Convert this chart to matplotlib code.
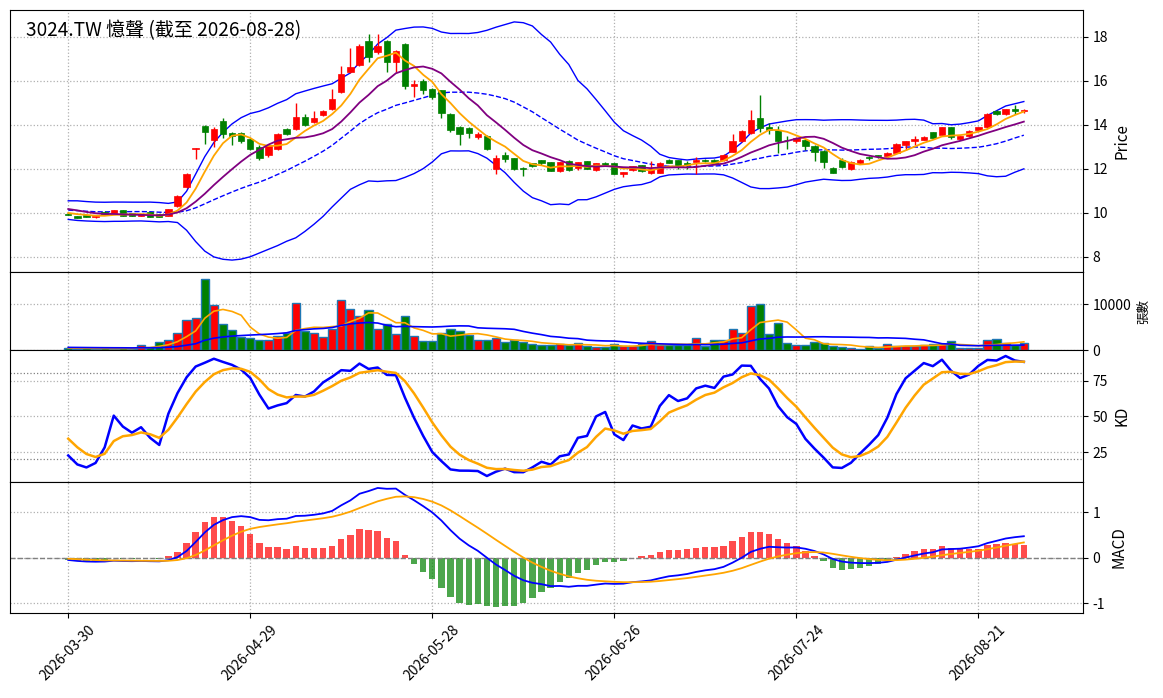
import numpy as np
import pandas as pd
import matplotlib
matplotlib.use('Agg')
import matplotlib.pyplot as plt

plt.rcParams['font.family'] = ['Noto Sans CJK TC', 'DejaVu Sans']
plt.rcParams['axes.unicode_minus'] = False

TITLE = '3024.TW 憶聲 (截至 2026-08-28)'
START, END = '2026-03-30', '2026-08-28'
HOLIDAYS = ['2026-04-03', '2026-04-06', '2026-05-01', '2026-06-19']
TICK_DATES = ['2026-03-30', '2026-04-29', '2026-05-28', '2026-06-26', '2026-07-24', '2026-08-21']

# estimated bars before the window (needed for the moving averages / KD)
PRE_CLOSE = [10.25, 10.4, 10.3, 10.1, 9.95, 9.85, 9.8, 9.9, 10.0, 10.25,
             10.4, 10.55, 10.45, 10.3, 10.1, 10.05, 10.0, 10.05, 9.97]
PRE_HIGH = [10.3, 10.45, 10.4, 10.3, 10.05, 9.95, 9.9, 9.95, 10.05, 10.3,
            10.45, 10.6, 10.55, 10.45, 10.3, 10.15, 10.1, 10.1, 10.08]
PRE_LOW = [10.2, 10.3, 10.25, 10.05, 9.9, 9.8, 9.75, 9.8, 9.9, 10.0,
           10.25, 10.4, 10.4, 10.25, 10.05, 9.98, 9.9, 9.85, 9.88]
PRE_VOLUME = [600, 750, 650, 700, 550, 500, 650, 600, 700, 800,
              650, 600, 550, 500, 450, 500, 400, 450, 400]

OPEN = [9.97, 9.85, 9.92, 9.82, 10.05, 9.98, 10.13, 9.99, 9.87, 10.03,
        9.95, 9.86, 10.3, 11.18, 12.9, 13.97, 13.3, 14.2, 13.63, 13.63,
        13.36, 13.02, 12.63, 12.91, 13.82, 13.82, 14.35, 14.13, 14.45, 14.71,
        15.5, 16.42, 16.73, 17.8, 17.31, 17.8, 16.85, 17.69, 15.77, 16.0,
        15.62, 15.57, 14.51, 13.91, 13.87, 13.45, 13.51, 11.99, 12.63, 12.48,
        12.05, 12.25, 12.4, 12.3, 11.92, 12.36, 12.05, 12.36, 11.97, 12.28,
        12.25, 11.75, 11.96, 12.16, 11.8, 11.82, 12.41, 12.41, 12.26, 12.3,
        12.42, 12.41, 12.41, 12.79, 13.25, 13.63, 14.32, 13.9, 13.75, 13.33,
        13.25, 13.32, 13.06, 12.82, 12.05, 12.43, 11.99, 12.25, 12.56, 12.62,
        12.6, 12.74, 13.09, 13.29, 13.33, 13.66, 13.55, 13.91, 13.36, 13.48,
        13.76, 13.91, 14.63, 14.48, 14.74, 14.63]
HIGH = [10.0, 9.88, 9.95, 9.9, 10.08, 10.15, 10.15, 10.0, 9.97, 10.05,
        9.97, 10.2, 10.8, 11.8, 12.97, 13.99, 13.93, 14.32, 13.68, 13.68,
        13.4, 13.1, 13.12, 13.62, 13.88, 14.98, 14.48, 14.63, 14.7, 15.63,
        16.67, 17.5, 17.69, 18.15, 18.15, 17.85, 17.43, 17.72, 16.05, 16.1,
        15.68, 15.6, 14.55, 13.95, 13.9, 13.7, 13.55, 12.63, 12.75, 12.52,
        12.08, 12.28, 12.42, 12.33, 12.33, 12.4, 12.32, 12.38, 12.28, 12.3,
        12.27, 11.86, 12.15, 12.18, 12.35, 12.3, 12.45, 12.43, 12.35, 12.56,
        12.44, 12.44, 12.7, 13.6, 13.75, 14.67, 15.35, 14.1, 13.95, 13.5,
        13.45, 13.35, 13.08, 12.85, 12.07, 12.52, 12.35, 12.45, 12.6, 12.65,
        12.76, 13.16, 13.27, 13.48, 13.48, 13.68, 13.93, 13.93, 13.5, 13.76,
        13.92, 14.55, 14.66, 14.73, 14.9, 14.73]
LOW = [9.9, 9.75, 9.8, 9.75, 9.93, 9.96, 9.84, 9.85, 9.85, 9.8,
       9.8, 9.84, 10.25, 11.15, 12.44, 13.14, 13.02, 13.4, 13.1, 13.2,
       12.85, 12.4, 12.56, 12.88, 13.55, 13.75, 13.95, 14.1, 14.4, 14.68,
       15.45, 16.38, 16.7, 16.85, 17.23, 16.39, 16.42, 15.65, 15.25, 15.42,
       15.2, 14.31, 13.7, 13.08, 13.4, 13.35, 12.85, 11.76, 12.3, 11.95,
       11.67, 12.1, 12.2, 11.9, 11.88, 11.93, 11.95, 11.98, 11.9, 12.15,
       11.75, 11.65, 11.93, 11.85, 11.75, 11.8, 12.25, 12.0, 12.0, 11.79,
       12.33, 12.25, 12.38, 12.76, 13.22, 13.6, 13.7, 13.6, 12.71, 12.9,
       13.2, 12.85, 12.35, 12.05, 11.8, 12.05, 11.97, 12.22, 12.4, 12.5,
       12.58, 12.72, 12.85, 13.1, 13.3, 13.38, 13.52, 13.36, 13.32, 13.45,
       13.74, 13.88, 14.45, 14.45, 14.5, 14.55]
CLOSE = [9.93, 9.78, 9.82, 9.88, 9.95, 10.13, 9.86, 9.87, 9.95, 9.83,
         9.83, 10.18, 10.75, 11.79, 12.97, 13.69, 13.82, 13.58, 13.5, 13.25,
         12.9, 12.48, 13.09, 13.59, 13.6, 14.37, 13.99, 14.32, 14.63, 15.17,
         16.32, 16.62, 17.57, 17.08, 17.57, 16.88, 17.34, 15.77, 15.85, 15.57,
         15.27, 14.54, 13.75, 13.57, 13.63, 13.6, 12.89, 12.51, 12.45, 11.99,
         11.98, 12.15, 12.25, 11.92, 12.3, 11.95, 12.3, 12.0, 12.25, 12.2,
         11.79, 11.84, 12.13, 11.93, 11.98, 12.28, 12.29, 12.07, 12.18, 12.41,
         12.36, 12.29, 12.64, 13.28, 13.71, 14.24, 13.86, 13.78, 13.25, 13.3,
         13.43, 13.06, 12.76, 12.33, 11.82, 12.1, 12.33, 12.43, 12.5, 12.58,
         12.74, 13.14, 13.25, 13.37, 13.45, 13.4, 13.91, 13.45, 13.48, 13.74,
         13.9, 14.52, 14.5, 14.71, 14.63, 14.68]
VOLUME = [400, 300, 350, 300, 350, 300, 350, 300, 1000, 650,
          1700, 2100, 3650, 6500, 6950, 15500, 9800, 5600, 4300, 2800,
          2550, 2250, 2250, 3000, 3700, 10300, 4150, 3700, 2800, 4650,
          10900, 8900, 7400, 8700, 4550, 5750, 3450, 7350, 3000, 1900,
          1900, 3700, 4650, 4100, 3200, 2250, 2250, 2550, 1700, 2200,
          1700, 1300, 1000, 1000, 1400, 1000, 1550, 800, 750, 600,
          1300, 800, 800, 1400, 1900, 1000, 1000, 1150, 1150, 2550,
          900, 2100, 2100, 4550, 3800, 9550, 10000, 3450, 5900, 1550,
          1000, 1000, 1700, 1550, 900, 750, 450, 300, 800, 500,
          1250, 900, 900, 900, 1000, 1250, 1400, 1900, 450, 450,
          450, 2100, 2500, 1600, 1150, 1550]

# ---------------- indicators ----------------
dates = pd.bdate_range(START, END)
dates = dates[~dates.isin(pd.to_datetime(HOLIDAYS))]
n = len(CLOSE)
npre = len(PRE_CLOSE)
x = np.arange(n)

o = np.array(OPEN); h = np.array(HIGH); l = np.array(LOW); c = np.array(CLOSE)
v = np.array(VOLUME, dtype=float)

c_all = pd.Series(PRE_CLOSE + CLOSE)
h_all = pd.Series(PRE_HIGH + HIGH)
l_all = pd.Series(PRE_LOW + LOW)
v_all = pd.Series(PRE_VOLUME + VOLUME, dtype=float)

ma5 = c_all.rolling(5).mean().values[npre:]
ma10 = c_all.rolling(10).mean().values[npre:]
mid = c_all.rolling(20).mean()
sd = c_all.rolling(20).std(ddof=0)
bb_mid = mid.values[npre:]
bb_up = (mid + 2 * sd).values[npre:]
bb_lo = (mid - 2 * sd).values[npre:]

vma5 = v_all.rolling(5).mean().values[npre:]
vma20 = v_all.rolling(20, min_periods=1).mean().values[npre:]

# KD (9,3,3)
ll = l_all.rolling(9, min_periods=1).min()
hh = h_all.rolling(9, min_periods=1).max()
rsv = ((c_all - ll) / (hh - ll).replace(0, np.nan) * 100).fillna(50).values
K = np.zeros(len(rsv)); D = np.zeros(len(rsv))
kp, dp = 50.0, 50.0
for i, r in enumerate(rsv):
    kp = kp * 2 / 3 + r / 3
    dp = dp * 2 / 3 + kp / 3
    K[i] = kp; D[i] = dp
K = K[npre:]; D = D[npre:]

# MACD (12,26,9)
ema12 = c_all.ewm(span=12, adjust=False).mean()
ema26 = c_all.ewm(span=26, adjust=False).mean()
dif = ema12 - ema26
dea = dif.ewm(span=9, adjust=False).mean()
osc = 2 * (dif - dea)
dif = dif.values[npre:]; dea = dea.values[npre:]; osc = osc.values[npre:]

# ---------------- figure ----------------
W, H = 1163, 698
fig = plt.figure(figsize=(W / 100, H / 100), dpi=100)

def axrect(top, bottom, left=10, right=1083):
    return [left / W, 1 - bottom / H, (right - left) / W, (bottom - top) / H]

ax1 = fig.add_axes(axrect(10, 272))
ax2 = fig.add_axes(axrect(272, 350), sharex=ax1)
ax3 = fig.add_axes(axrect(350, 482), sharex=ax1)
ax4 = fig.add_axes(axrect(482, 613), sharex=ax1)

UP, DN = '#ff0000', '#008000'
col = np.where(c >= o, UP, DN)

# candles
ax1.vlines(x, l, h, colors=col, linewidth=1, zorder=3)
body_bot = np.minimum(o, c)
body_h = np.maximum(np.abs(c - o), 0.03)
ax1.bar(x, body_h, bottom=body_bot, width=0.7, color=col, edgecolor=col, linewidth=0.5, zorder=4)

ax1.plot(x, bb_up, color='blue', lw=1, zorder=2)
ax1.plot(x, bb_lo, color='blue', lw=1, zorder=2)
ax1.plot(x, bb_mid, color='blue', lw=1, ls='--', zorder=2)
ax1.plot(x, ma5, color='orange', lw=1.3, zorder=5)
ax1.plot(x, ma10, color='purple', lw=1.3, zorder=5)
ax1.text(0.015, 0.922, TITLE, transform=ax1.transAxes, fontsize=13.7, va='center', ha='left',
         fontweight='medium')
ax1.set_ylabel('Price', fontsize=11)

# volume
ax2.bar(x, v, width=0.9, color=col, edgecolor='#1f77b4', linewidth=1, zorder=3)
ax2.plot(x, vma5, color='orange', lw=1.2, zorder=4)
ax2.plot(x, vma20, color='blue', lw=1.2, zorder=4)
ax2.set_ylim(0, v.max() * 1.1)
ax2.set_yticks([0, 10000])
ax2.set_ylabel('張數', fontsize=9)

# KD
ax3.plot(x, K, color='blue', lw=1.8, zorder=3)
ax3.plot(x, D, color='orange', lw=1.8, zorder=3)
ax3.axhline(80, color='gray', ls=':', lw=0.9)
ax3.axhline(20, color='gray', ls=':', lw=0.9)
ax3.set_yticks([25, 50, 75])
ax3.set_ylabel('KD', fontsize=11)

# MACD
hcol = np.where(osc >= 0, 'red', 'green')
ax4.bar(x, osc, width=0.7, color=hcol, alpha=0.7, zorder=2)
ax4.plot(x, dif, color='blue', lw=1.3, zorder=3)
ax4.plot(x, dea, color='orange', lw=1.3, zorder=3)
ax4.axhline(0, color='gray', ls='--', lw=1)
ax4.set_yticks([-1, 0, 1])
ax4.set_ylabel('MACD', fontsize=11)

date_str = [d.strftime('%Y-%m-%d') for d in dates]
tick_pos = [date_str.index(t) for t in TICK_DATES]
ax4.set_xticks(tick_pos)
ax4.set_xticklabels(TICK_DATES, rotation=45, ha='center', fontsize=10)
ax4.set_xlim(-6.4, 111.5)

for ax in (ax1, ax2, ax3, ax4):
    ax.yaxis.tick_right()
    ax.yaxis.set_label_position('right')
    ax.tick_params(axis='y', labelsize=10)
    ax.grid(True, color='#b0b0b0', ls=':', lw=0.9)
    ax.set_axisbelow(True)
for ax in (ax1, ax2, ax3):
    ax.tick_params(axis='x', labelbottom=False, bottom=False)

fig.savefig('out.png', dpi=100)
